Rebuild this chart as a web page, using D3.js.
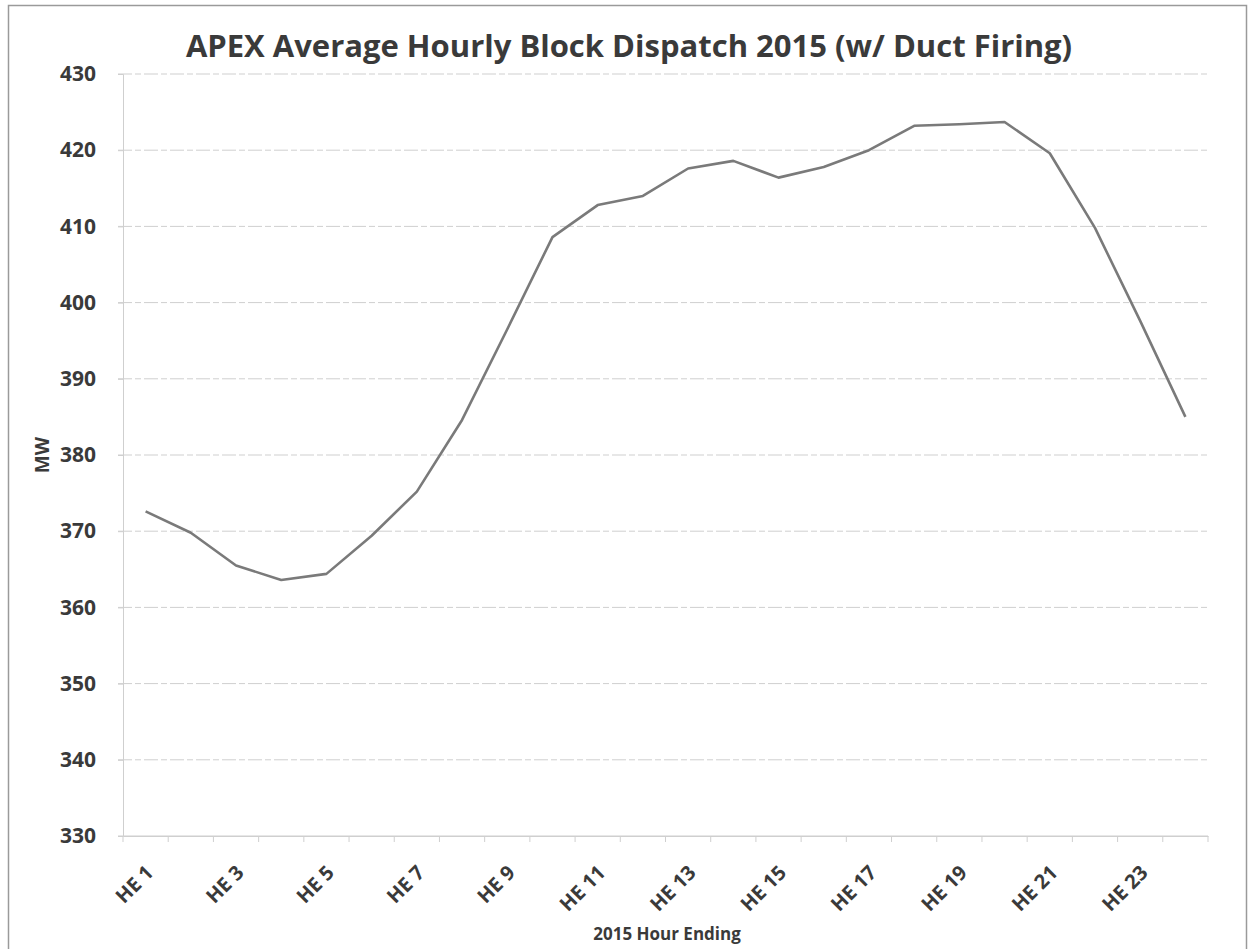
<!DOCTYPE html>
<html lang="en">
<head>
  <meta charset="UTF-8" />
  <title>APEX Average Hourly Block Dispatch 2015</title>
  <script src="https://d3js.org/d3.v7.min.js"></script>
  <style>
    body {
      margin: 0;
      background: #fff;
      overflow: hidden;
    }
    svg {
      display: block;
    }
    svg text {
      font-family: "Open Sans", sans-serif;
    }
  </style>
</head>
<body>

<svg id="chart" width="1249" height="949"></svg>

<script>
const hours = d3.range(1, 25).map(h => `HE ${h}`);
const dispatchMW = [
  372.6, 369.8, 365.5, 363.6, 364.4, 369.4, 375.2, 384.6,
  396.5, 408.6, 412.8, 414.0, 417.6, 418.6, 416.4, 417.8,
  420.0, 423.2, 423.4, 423.7, 419.6, 409.8, 397.6, 385.0
];
const yTicks = [330, 340, 350, 360, 370, 380, 390, 400, 410, 420, 430];

const svg = d3.select("#chart");
const width = 1249;
const height = 949;
const margin = { top: 74, right: 41, bottom: 113, left: 123 };
const font = "'Open Sans', sans-serif";

const x = d3.scaleBand()
  .domain(hours)
  .range([margin.left, width - margin.right]);

const y = d3.scaleLinear()
  .domain([330, 430])
  .range([height - margin.bottom, margin.top]);

// outer frame
svg.append("rect")
  .attr("x", 8.5).attr("y", 5.5)
  .attr("width", 1238).attr("height", 950)
  .attr("fill", "none")
  .attr("stroke", "#9a9a9a")
  .attr("stroke-width", 1.5);

// gridlines
svg.append("g")
  .selectAll("line")
  .data(yTicks)
  .join("line")
  .attr("x1", margin.left - 5)
  .attr("x2", width - margin.right)
  .attr("y1", d => y(d))
  .attr("y2", d => y(d))
  .attr("stroke", "#cfcfcf")
  .attr("stroke-width", 1)
  .attr("stroke-dasharray", d => d === 330 ? null : "14 3 6 3");

// y axis
const yAxis = svg.append("g")
  .attr("transform", `translate(${margin.left},0)`)
  .call(d3.axisLeft(y).tickValues(yTicks).tickSize(5).tickPadding(22));
yAxis.attr("font-family", font);
yAxis.select(".domain").attr("stroke", "#cfcfcf");
yAxis.selectAll(".tick line").attr("stroke", "#cfcfcf");
yAxis.selectAll("text")
  .attr("fill", "#3a3a3a")
  .attr("font-size", 21)
  .attr("font-weight", 700);

// x axis
const xAxis = svg.append("g")
  .attr("transform", `translate(0,${height - margin.bottom})`)
  .call(d3.axisBottom(x).tickSize(0).tickFormat(""));
xAxis.select(".domain").attr("stroke", "#cfcfcf");

svg.append("g")
  .selectAll("line")
  .data(d3.range(0, hours.length + 1))
  .join("line")
  .attr("x1", i => margin.left + i * x.step())
  .attr("x2", i => margin.left + i * x.step())
  .attr("y1", height - margin.bottom)
  .attr("y2", height - margin.bottom + 6)
  .attr("stroke", "#cfcfcf");

svg.append("g")
  .selectAll("text")
  .data(hours.filter((d, i) => i % 2 === 0))
  .join("text")
  .attr("transform", d => `translate(${x(d) + x.bandwidth() / 2 + 9},${height - margin.bottom + 38}) rotate(-45)`)
  .attr("text-anchor", "end")
  .attr("fill", "#3a3a3a")
  .attr("font-size", 20)
  .attr("font-weight", 700)
  .text(d => d);

// line
const line = d3.line()
  .x((d, i) => x(hours[i]) + x.bandwidth() / 2)
  .y(d => y(d));

svg.append("path")
  .datum(dispatchMW)
  .attr("d", line)
  .attr("fill", "none")
  .attr("stroke", "#7a7a7a")
  .attr("stroke-width", 2.6)
  .attr("stroke-linejoin", "round");

// titles
svg.append("text")
  .attr("x", 629)
  .attr("y", 57)
  .attr("text-anchor", "middle")
  .attr("fill", "#3a3a3a")
  .attr("font-size", 31)
  .attr("font-weight", 700)
  .text("APEX Average Hourly Block Dispatch 2015 (w/ Duct Firing)");

svg.append("text")
  .attr("x", 667)
  .attr("y", 940)
  .attr("text-anchor", "middle")
  .attr("fill", "#3a3a3a")
  .attr("font-size", 17)
  .attr("font-weight", 700)
  .text("2015 Hour Ending");

svg.append("text")
  .attr("transform", "translate(49,455) rotate(-90)")
  .attr("text-anchor", "middle")
  .attr("fill", "#3a3a3a")
  .attr("font-size", 19)
  .attr("font-weight", 700)
  .text("MW");
</script>

</body>
</html>
